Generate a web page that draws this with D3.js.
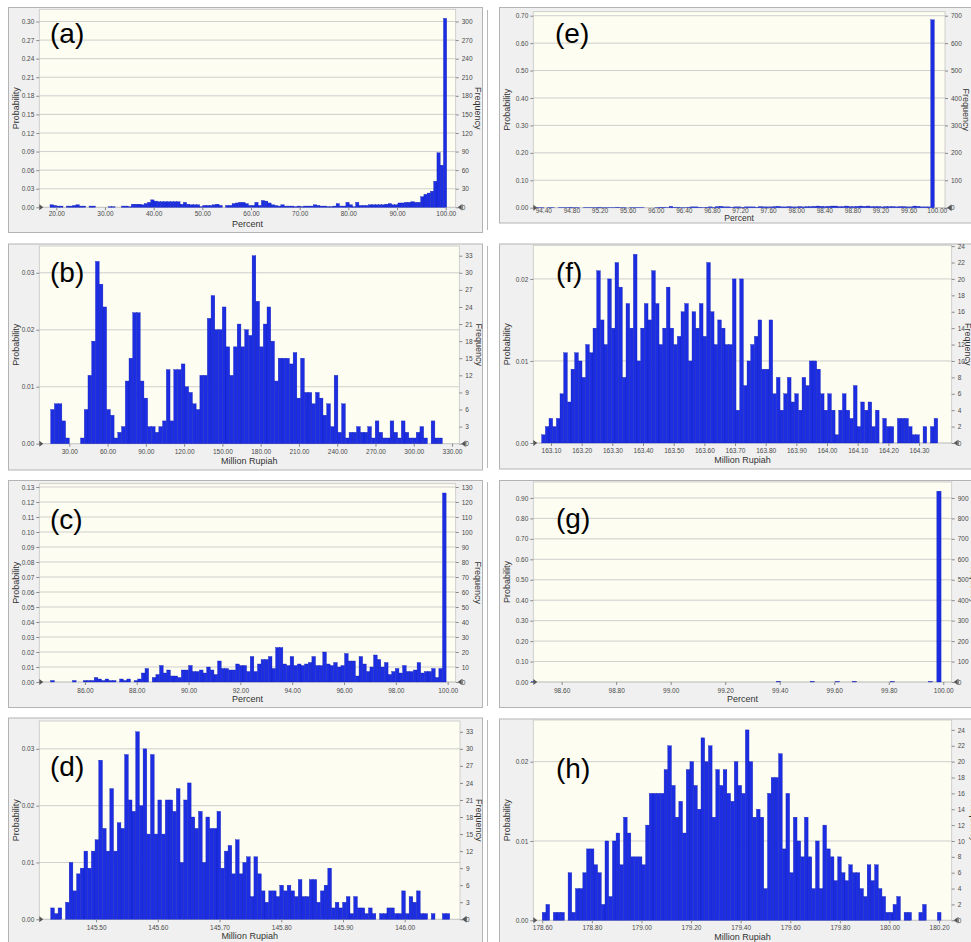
<!DOCTYPE html>
<html>
<head>
<meta charset="utf-8">
<script src="https://cdn.jsdelivr.net/npm/d3@7"></script>
<style>
body { margin: 0; background: #fff; }
svg text { font-family: "Liberation Sans", Arial, sans-serif; }
</style>
</head>
<body>
<div id="chart"></div>
<script>
const width = 971;
const height = 942;
const trials = 1000;

// (a) Percent, frequency per bin
const countsA = [4,3,2,2,0,2,2,3,4,2, 2,0,2,2,0,0,0,0,1,1, 0,0,2,2,1,5,5,5,4,6,
  8,12,10,9,9,9,9,9,9,9, 5,8,5,4,4,4,1,3,3,3, 4,5,3,0,3,3,6,7,8,8,
  6,3,3,8,3,11,10,7,4,3, 2,4,2,2,2,1,2,1,2,2, 2,4,3,2,2,1,1,2,6,2,
  2,8,4,1,8,3,3,3,4,4, 4,4,4,5,6,4,4,7,7,8, 8,9,8,8,17,21,23,26,42,88, 68,305];
const rangeA = [18.71, 100.2];
const xTicksA = [20, 30, 40, 50, 60, 70, 80, 90, 100];
const yTicksA = [0, 0.03, 0.06, 0.09, 0.12, 0.15, 0.18, 0.21, 0.24, 0.27, 0.30];
const fTicksA = [0, 30, 60, 90, 120, 150, 180, 210, 240, 270, 300];

// (b) Million Rupiah
const countsB = [6,7,7,4,1,0,0,0,1,6, 12,18,32,28,24,6,5,1,2,3, 11,15,23,23,11,8,3,3,2,3,
  4,13,4,13,13,14,10,9,7,6, 12,12,22,26,20,20,24,17,12,17, 21,17,20,19,33,25,17,21,24,18,
  11,15,15,15,14,16,8,15,9,9, 7,9,8,5,7,3,12,2,7,1, 2,2,3,2,2,3,1,4,2,1,
  1,4,2,1,4,2,1,1,2,3, 1,0,4,1,1];
const rangeB = [15.4, 322.4];
const xTicksB = [30, 60, 90, 120, 150, 180, 210, 240, 270, 300, 330];
const yTicksB = [0, 0.01, 0.02, 0.03];
const fTicksB = [0, 3, 6, 9, 12, 15, 18, 21, 24, 27, 30, 33];

// (c) Percent
const countsC = [1,0,0,0,0,0,1,0,0,1, 1,1,3,2,1,2,1,1,0,2, 1,2,0,1,2,6,9,0,3,5,
  11,6,8,4,4,3,8,8,11,7, 7,8,6,10,8,5,14,9,9,8, 8,12,11,11,7,17,7,12,15,15,
  17,9,23,23,12,11,17,11,12,11, 12,13,17,11,11,20,12,11,13,10, 11,19,14,14,4,17,12,7,10,18,
  15,10,13,5,7,9,6,11,7,7, 8,13,6,7,7,9,3,9,126];
const rangeC = [84.68, 99.94];
const xTicksC = [86, 88, 90, 92, 94, 96, 98, 100];
const yTicksC = [0, 0.01, 0.02, 0.03, 0.04, 0.05, 0.06, 0.07, 0.08, 0.09, 0.10, 0.11, 0.12, 0.13];
const fTicksC = [0, 10, 20, 30, 40, 50, 60, 70, 80, 90, 100, 110, 120, 130];

// (d) Million Rupiah
const countsD = [2,1,2,0,3,10,5,8,9,12, 9,12,14,28,16,12,23,12,17,16, 29,21,19,33,20,30,15,29,15,21,
  15,21,21,19,23,10,21,24,18,16, 19,10,18,16,16,19,9,12,13,8, 14,8,10,11,4,11,8,5,3,5,
  5,4,6,5,6,5,4,7,4,4, 7,7,3,5,6,9,2,3,2,3, 4,1,4,2,2,1,2,1,0,1,
  1,2,2,1,1,5,1,4,3,5, 1,1,0,1,0,0,1,1];
const rangeD = [145.4265, 146.073];
const xTicksD = [145.5, 145.6, 145.7, 145.8, 145.9, 146.0];
const yTicksD = [0, 0.01, 0.02, 0.03];
const fTicksD = [0, 3, 6, 9, 12, 15, 18, 21, 24, 27, 30, 33];

// (e) Percent
const countsE = [1,1,0,1,1,0,1,1,1,2, 1,1,0,1,1,1,1,2,1,1, 1,1,2,1,1,0,1,1,1,1,
  0,0,0,1,2,2,1,5,2,2, 1,1,2,3,3,2,1,2,3,2, 4,5,3,3,2,3,3,2,3,3,
  3,2,4,3,3,3,4,5,3,3, 4,3,3,4,3,4,4,5,6,5, 4,5,6,6,4,4,6,4,4,5,
  6,5,6,4,4,4,3,4,4,4, 3,4,4,3,3,6,5,3,3,3, 685];
const rangeE = [94.306, 99.966];
const xTicksE = [94.4, 94.8, 95.2, 95.6, 96.0, 96.4, 96.8, 97.2, 97.6, 98.0, 98.4, 98.8, 99.2, 99.6, 100];
const yTicksE = [0, 0.1, 0.2, 0.3, 0.4, 0.5, 0.6, 0.7];
const fTicksE = [0, 100, 200, 300, 400, 500, 600, 700];

// (f) Million Rupiah
const countsF = [1,2,3,2,3,6,11,5,9,11, 10,8,12,11,14,21,15,12,20,14, 22,19,8,17,14,23,10,14,17,15,
  21,17,12,14,19,14,12,13,16,17, 10,16,14,17,13,22,16,12,15,14, 12,12,20,4,20,7,10,12,13,15,
  9,9,15,6,8,4,6,8,5,6, 4,8,7,10,10,9,6,4,6,4, 1,4,6,4,3,7,2,5,4,5,
  2,4,0,3,2,2,0,3,3,3, 2,1,1,0,2,0,2,3];
const rangeF = [163.0696, 164.361];
const xTicksF = [163.1, 163.2, 163.3, 163.4, 163.5, 163.6, 163.7, 163.8, 163.9, 164.0, 164.1, 164.2, 164.3];
const yTicksF = [0, 0.01, 0.02];
const fTicksF = [0, 2, 4, 6, 8, 10, 12, 14, 16, 18, 20, 22, 24];

// (g) Percent
const countsG = [1,0,0,0,0,0,0,0,0,0, 0,0,0,0,0,0,0,0,0,0, 0,0,0,0,0,0,0,0,0,0,
  0,0,0,0,0,0,0,0,0,0, 0,0,0,0,0,0,0,0,0,0, 0,0,0,0,0,0,0,0,3,0,
  0,0,0,0,0,0,3,0,0,0, 0,0,2,0,0,0,3,0,0,0, 0,0,0,0,0,2,0,0,0,0,
  0,0,0,0,2,0,933];
const rangeG = [98.49, 99.992];
const xTicksG = [98.6, 98.8, 99.0, 99.2, 99.4, 99.6, 99.8, 100];
const yTicksG = [0, 0.1, 0.2, 0.3, 0.4, 0.5, 0.6, 0.7, 0.8, 0.9];
const fTicksG = [0, 100, 200, 300, 400, 500, 600, 700, 800, 900];

// (h) Million Rupiah
const countsH = [1,2,0,1,1,1,0,6,1,4, 4,6,9,9,7,6,2,10,3,10, 11,7,13,11,8,8,8,7,12,16,
  16,16,16,19,22,17,13,15,11,19, 20,17,14,23,20,22,13,19,17,19, 16,15,20,17,16,24,20,13,14,13,
  4,16,18,18,21,9,16,6,13,10, 8,13,8,4,10,4,12,9,8,5, 8,6,5,7,6,6,4,3,7,5,
  7,4,3,1,1,2,3,0,1,1, 0,0,1,2,0,0,0,1];
const rangeH = [178.6, 180.208];
const xTicksH = [178.6, 178.8, 179.0, 179.2, 179.4, 179.6, 179.8, 180.0, 180.2];
const yTicksH = [0, 0.01, 0.02];
const fTicksH = [0, 2, 4, 6, 8, 10, 12, 14, 16, 18, 20, 22, 24];

// layout of each screenshot panel
const panels = [
  {label: "(a)", counts: countsA, range: rangeA, xTicks: xTicksA, yTicks: yTicksA, fTicks: fTicksA, title: "Percent",
   frame: [8, 7, 482, 232], plot: [39.3, 9.3, 455.7, 207.3], xDomain: [16.51, 102.05], yMax: 0.3197,
   labOff: 6, titleOff: 16.7, titleSize: 9, probX: 15.5, freqX: 478.5, letter: [50, 43]},
  {label: "(b)", counts: countsB, range: rangeB, xTicks: xTicksB, yTicks: yTicksB, fTicks: fTicksB, title: "Million Rupiah",
   frame: [8, 243.5, 482, 469.5], plot: [39.3, 246, 459.3, 443.7], xDomain: [6.48, 335.7], yMax: 0.0347,
   labOff: 8.3, titleOff: 17.6, titleSize: 9, probX: 16, freqX: 479, letter: [50, 282]},
  {label: "(c)", counts: countsC, range: rangeC, xTicks: xTicksC, yTicks: yTicksC, fTicks: fTicksC, title: "Percent",
   frame: [8, 480, 482, 707], plot: [39.3, 483.7, 455.7, 682], xDomain: [84.24, 100.31], yMax: 0.1322,
   labOff: 8.3, titleOff: 16.7, titleSize: 9, probX: 16, freqX: 478.5, letter: [50, 528.5]},
  {label: "(d)", counts: countsD, range: rangeD, xTicks: xTicksD, yTicks: yTicksD, fTicks: fTicksD, title: "Million Rupiah",
   frame: [8, 717.5, 482, 950], plot: [39.3, 721, 460, 919.3], xDomain: [145.408, 146.0896], yMax: 0.0349,
   labOff: 8.4, titleOff: 16.7, titleSize: 9, probX: 16, freqX: 479, letter: [50, 776]},
  {label: "(e)", counts: countsE, range: rangeE, xTicks: xTicksE, yTicks: yTicksE, fTicks: fTicksE, title: "Percent",
   frame: [499, 7, 980, 222.5], plot: [533.3, 11.7, 945, 207.7], xDomain: [94.258, 100.118], yMax: 0.7146,
   labOff: 2.7, titleOff: 10.2, titleSize: 8.6, probX: 506.5, freqX: 966, letter: [555, 43]},
  {label: "(f)", counts: countsF, range: rangeF, xTicks: xTicksF, yTicks: yTicksF, fTicks: fTicksF, title: "Million Rupiah",
   frame: [499, 243.5, 980, 468.5], plot: [533.3, 245.3, 951.7, 443], xDomain: [163.0423, 164.4065], yMax: 0.0241,
   labOff: 7.3, titleOff: 17, titleSize: 9, probX: 506.5, freqX: 968.5, letter: [556, 282]},
  {label: "(g)", counts: countsG, range: rangeG, xTicks: xTicksG, yTicks: yTicksG, fTicks: fTicksG, title: "Percent",
   frame: [499, 480, 980, 707], plot: [533.3, 482, 951.7, 682], xDomain: [98.496, 100.031], yMax: 0.978,
   labOff: 8.3, titleOff: 16.7, titleSize: 9, probX: 506.5, freqX: 974.5, letter: [556, 528]},
  {label: "(h)", counts: countsH, range: rangeH, xTicks: xTicksH, yTicks: yTicksH, fTicks: fTicksH, title: "Million Rupiah",
   frame: [499, 718.5, 980, 950], plot: [533.3, 720, 951.7, 920.3], xDomain: [178.564, 180.251], yMax: 0.02525,
   labOff: 7.4, titleOff: 16.4, titleSize: 9, probX: 506.5, freqX: 974.5, letter: [556, 778]}
];

let svg = d3.select("#chart")
    .append("svg")
    .attr("width", width)
    .attr("height", height)
    .attr("viewBox", "0 0 " + width + " " + height);

svg.append("rect")
    .attr("width", width)
    .attr("height", height)
    .attr("fill", "#ffffff");

// the thin separator line that sits just right of the left column
[[10, 230], [246, 468], [482, 706], [720, 942]].forEach(r => {
    svg.append("line")
        .attr("x1", 487.5).attr("x2", 487.5)
        .attr("y1", r[0]).attr("y2", r[1])
        .attr("stroke", "#b8b8b8");
});

panels.forEach(drawPanel);

function styleAxis(ax) {
    ax.attr("font-family", "Liberation Sans, Arial, sans-serif")
        .attr("font-size", 6.5);
    ax.select(".domain").remove();
    ax.selectAll("line").attr("stroke", "#8a8a8a");
    ax.selectAll("text").attr("fill", "#4a4a4a");
}

function drawPanel(p) {
    let g = svg.append("g");
    let [fx0, fy0, fx1, fy1] = p.frame;
    let [px0, py0, px1, py1] = p.plot;

    g.append("rect")
        .attr("x", fx0 + 0.5).attr("y", fy0 + 0.5)
        .attr("width", fx1 - fx0).attr("height", fy1 - fy0)
        .attr("fill", "#f0f0f0")
        .attr("stroke", "#b4b4b4");

    let x = d3.scaleLinear().domain(p.xDomain).range([px0, px1]);
    let y = d3.scaleLinear().domain([0, p.yMax]).range([py1, py0]);
    let yFreq = d3.scaleLinear().domain([0, p.yMax * trials]).range([py1, py0]);

    g.append("rect")
        .attr("x", px0).attr("y", py0)
        .attr("width", px1 - px0).attr("height", py1 - py0)
        .attr("fill", "#fdfdf1")
        .attr("stroke", "#c6c6c6")
        .attr("stroke-width", 0.8);

    // gridlines at the probability ticks
    g.append("g")
        .selectAll("line")
        .data(p.yTicks)
        .enter()
        .append("line")
        .attr("x1", px0).attr("x2", px1)
        .attr("y1", d => y(d)).attr("y2", d => y(d))
        .attr("stroke", "#c9c9c9")
        .attr("stroke-width", 0.9);

    // histogram bars
    let binW = (p.range[1] - p.range[0]) / p.counts.length;
    let bins = p.counts.map((c, i) => ({
        count: c,
        x0: p.range[0] + i * binW,
        x1: p.range[0] + (i + 1) * binW
    })).filter(d => d.count > 0);

    g.append("g")
        .selectAll("rect")
        .data(bins)
        .enter()
        .append("rect")
        .attr("x", d => x(d.x0))
        .attr("width", d => x(d.x1) - x(d.x0))
        .attr("y", d => y(d.count / trials))
        .attr("height", d => py1 - y(d.count / trials))
        .attr("fill", "#1c2de2")
        .attr("stroke", "#1020b4")
        .attr("stroke-width", 0.35);

    // axes
    let axL = g.append("g")
        .attr("transform", "translate(" + px0 + ",0)")
        .call(d3.axisLeft(y).tickValues(p.yTicks).tickFormat(d3.format(".2f")).tickSize(3).tickPadding(2));
    styleAxis(axL);

    let axR = g.append("g")
        .attr("transform", "translate(" + px1 + ",0)")
        .call(d3.axisRight(yFreq).tickValues(p.fTicks).tickFormat(d3.format("d")).tickSize(3).tickPadding(3));
    styleAxis(axR);

    let tickLen = p.labOff < 5 ? 1 : 3;
    let axB = g.append("g")
        .attr("transform", "translate(0," + py1 + ")")
        .call(d3.axisBottom(x).tickValues(p.xTicks).tickFormat(d3.format(".2f"))
            .tickSize(tickLen).tickPadding(p.labOff - 2.3 - tickLen));
    styleAxis(axB);

    // baseline grabbers at both ends
    g.append("path")
        .attr("d", "M" + px0 + "," + (py1 - 3) + "L" + (px0 + 4) + "," + py1 + "L" + px0 + "," + (py1 + 3) + "Z")
        .attr("fill", "#555");
    g.append("path")
        .attr("d", "M" + (px1 + 6) + "," + (py1 - 3) + "L" + (px1 + 2) + "," + py1 + "L" + (px1 + 6) + "," + (py1 + 3) + "Z")
        .attr("fill", "#555");
    g.append("line")
        .attr("x1", px1 + 6.5).attr("x2", px1 + 6.5)
        .attr("y1", py1 - 3).attr("y2", py1 + 3)
        .attr("stroke", "#777");

    // titles
    g.append("text")
        .attr("x", (px0 + px1) / 2)
        .attr("y", py1 + p.titleOff)
        .attr("dy", "0.35em")
        .attr("text-anchor", "middle")
        .attr("font-size", p.titleSize)
        .attr("fill", "#333")
        .text(p.title);

    g.append("text")
        .attr("transform", "translate(" + p.probX + "," + (py0 + py1) / 2 + ") rotate(-90)")
        .attr("dy", "0.35em")
        .attr("text-anchor", "middle")
        .attr("font-size", 9)
        .attr("fill", "#333")
        .text("Probability");

    g.append("text")
        .attr("transform", "translate(" + p.freqX + "," + (py0 + py1) / 2 + ") rotate(90)")
        .attr("dy", "0.35em")
        .attr("text-anchor", "middle")
        .attr("font-size", 9)
        .attr("fill", "#333")
        .text("Frequency");

    g.append("text")
        .attr("x", p.letter[0])
        .attr("y", p.letter[1])
        .attr("font-family", "Lato, 'Open Sans', sans-serif")
        .attr("font-size", 28)
        .attr("fill", "#000")
        .text(p.label);
}
</script>
</body>
</html>
